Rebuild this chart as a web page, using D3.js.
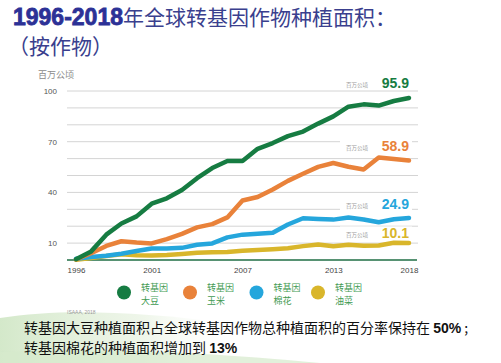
<!DOCTYPE html>
<html>
<head>
<meta charset="utf-8">
<script src="https://cdn.jsdelivr.net/npm/d3@7"></script>
<style>
body { margin: 0; background: #fff; }
svg { display: block; }
</style>
</head>
<body>
<script>
var years = d3.range(1996, 2019);
var soybean = [0.5, 5.1, 15.0, 21.6, 25.8, 33.3, 36.5, 41.4, 48.4, 54.4, 58.6, 58.6, 65.8, 69.2, 73.3, 76.0, 80.7, 85.0, 90.7, 92.1, 91.4, 94.1, 95.9];
var maize = [0.3, 4.0, 8.3, 11.1, 10.3, 9.8, 12.4, 15.5, 19.3, 21.2, 25.2, 35.2, 37.3, 41.7, 46.8, 51.0, 55.1, 57.4, 55.2, 53.6, 60.6, 59.7, 58.9];
var cotton = [0.8, 1.8, 2.5, 3.7, 5.3, 6.8, 6.8, 7.2, 9.0, 9.8, 13.4, 15.0, 15.5, 16.1, 21.0, 24.7, 24.3, 23.9, 25.1, 24.0, 22.3, 24.1, 24.9];
var canola = [0.1, 1.2, 2.4, 3.4, 2.8, 2.7, 3.0, 3.6, 4.3, 4.6, 4.8, 5.5, 5.9, 6.4, 7.0, 8.2, 9.2, 8.2, 9.0, 8.5, 8.6, 10.2, 10.1];
var seriesNames = ["转基因\n大豆", "转基因\n玉米", "转基因\n棉花", "转基因\n油菜"];
var endLabels = ["95.9", "58.9", "24.9", "10.1"];
var xTickYears = [1996, 2001, 2007, 2013, 2018];
var yTickLabels = [10, 40, 70, 100];

var colors = ["#167c42", "#e9823a", "#25a6dc", "#d9b62b"];
var w = 501, h = 363;

var svg = d3.select("body").append("svg").attr("width", w).attr("height", h);

// soft green swoosh of the slide background
var defs = svg.append("defs");
var g1 = defs.append("linearGradient").attr("id", "sw").attr("x1", 0).attr("x2", 1);
g1.append("stop").attr("offset", "0%").attr("stop-color", "#cfe6c4").attr("stop-opacity", 0.9);
g1.append("stop").attr("offset", "60%").attr("stop-color", "#e4f0dc").attr("stop-opacity", 0.6);
g1.append("stop").attr("offset", "100%").attr("stop-color", "#ffffff").attr("stop-opacity", 0);
svg.append("path").attr("d", "M0,318 C60,308 140,312 220,322 L240,363 L0,363 Z").attr("fill", "url(#sw)");
svg.append("path").attr("d", "M0,352 C120,348 200,352 320,363 L0,363 Z").attr("fill", "#d6e9cc").attr("opacity", 0.7);

// title
var title = svg.append("text").attr("x", 13).attr("y", 25).attr("font-size", 21);
title.append("tspan").text("1996-2018").attr("font-family", "Liberation Sans, Arial, sans-serif").attr("font-size", 23)
    .attr("font-weight", 900).attr("fill", "#2c3196").attr("stroke", "#2c3196").attr("stroke-width", 0.8);
title.append("tspan").text("年全球转基因作物种植面积：").attr("font-family", "Noto Sans CJK SC").attr("fill", "#3a3f8e");
svg.append("text").attr("x", 8).attr("y", 54).attr("font-size", 21)
    .attr("font-family", "Noto Sans CJK SC").attr("fill", "#3a3f8e").text("（按作物）");

var x = d3.scaleLinear().domain([1996, 2018]).range([76, 409]);
var y = d3.scaleLinear().domain([0, 100]).range([260, 91]);

// gridlines
svg.append("g").selectAll("line").data(d3.range(10, 101, 10)).enter().append("line")
    .attr("x1", 67).attr("x2", 418)
    .attr("y1", function (d) { return y(d); })
    .attr("y2", function (d) { return y(d); })
    .attr("stroke", "#d4d4d4").attr("stroke-width", 1);

// y tick labels
svg.append("g").selectAll("text").data(yTickLabels).enter().append("text")
    .attr("x", 57).attr("y", function (d) { return y(d) + 3; })
    .attr("text-anchor", "end").attr("font-size", 8).attr("font-family", "Liberation Sans, Arial, sans-serif")
    .attr("fill", "#555").text(function (d) { return d; });
svg.append("text").attr("x", 38).attr("y", 78).attr("font-size", 9)
    .attr("font-family", "Noto Sans CJK SC").attr("fill", "#8a8a8a").text("百万公顷");

// x axis
var xAxis = d3.axisBottom(x).tickValues(xTickYears).tickSize(0).tickPadding(7).tickFormat(d3.format("d"));
var ax = svg.append("g").attr("transform", "translate(0," + y(0) + ")").call(xAxis);
ax.select(".domain").remove();
ax.selectAll("text").attr("font-size", 8).attr("font-family", "Liberation Sans, Arial, sans-serif").attr("fill", "#444");
svg.append("line").attr("x1", 67).attr("x2", 417).attr("y1", y(0)).attr("y2", y(0))
    .attr("stroke", "#1f6e45").attr("stroke-width", 1.5);

// lines
var allSeries = [soybean, maize, cotton, canola];
var line = d3.line().x(function (d, i) { return x(years[i]); }).y(function (d) { return y(d); });
[3, 2, 1, 0].forEach(function (k) {
    svg.append("path").datum(allSeries[k]).attr("d", line)
        .attr("fill", "none").attr("stroke", colors[k]).attr("stroke-width", 4.5)
        .attr("stroke-linejoin", "round").attr("stroke-linecap", "round");
});

// end labels
var labelY = [88, 151, 209, 237.5];
endLabels.forEach(function (t, k) {
    svg.append("rect").attr("x", 340).attr("y", labelY[k] - 11).attr("width", 72).attr("height", 12).attr("fill", "#fff");
    svg.append("text").attr("x", 409).attr("y", labelY[k]).attr("text-anchor", "end")
        .attr("font-size", 14).attr("font-weight", "bold").attr("font-family", "Liberation Sans, Arial, sans-serif")
        .attr("fill", colors[k]).text(t);
    svg.append("text").attr("x", 346).attr("y", labelY[k] - 1).attr("font-size", 5.5)
        .attr("font-family", "Noto Sans CJK SC").attr("fill", "#9a9a9a").text("百万公顷");
});

// legend (two-line labels)
var legendX = [124, 190, 256.5, 318];
seriesNames.forEach(function (n, k) {
    svg.append("circle").attr("cx", legendX[k]).attr("cy", 292.5).attr("r", 7).attr("fill", colors[k]);
    n.split("\n").forEach(function (p, j) {
        svg.append("text").attr("x", legendX[k] + 17).attr("y", 291 + j * 13.2)
            .attr("font-size", 9).attr("font-family", "Noto Sans CJK SC").attr("fill", "#3f9a52").text(p);
    });
});

svg.append("text").attr("x", 67).attr("y", 314).attr("font-size", 5)
    .attr("font-family", "Liberation Sans, Arial, sans-serif").attr("fill", "#999").text("ISAAA, 2018");

// bottom notes
var n1 = svg.append("text").attr("x", 24).attr("y", 332.5).attr("font-size", 14).attr("fill", "#111")
    .attr("font-family", "Noto Sans CJK SC");
n1.append("tspan").text("转基因大豆种植面积占全球转基因作物总种植面积的百分率保持在 ");
n1.append("tspan").text("50%").attr("font-weight", "bold").attr("font-family", "Liberation Sans, Arial, sans-serif");
n1.append("tspan").text(" ;");
var n2 = svg.append("text").attr("x", 24).attr("y", 353).attr("font-size", 14).attr("fill", "#111")
    .attr("font-family", "Noto Sans CJK SC");
n2.append("tspan").text("转基因棉花的种植面积增加到 ");
n2.append("tspan").text("13%").attr("font-weight", "bold").attr("font-family", "Liberation Sans, Arial, sans-serif");
</script>
</body>
</html>
